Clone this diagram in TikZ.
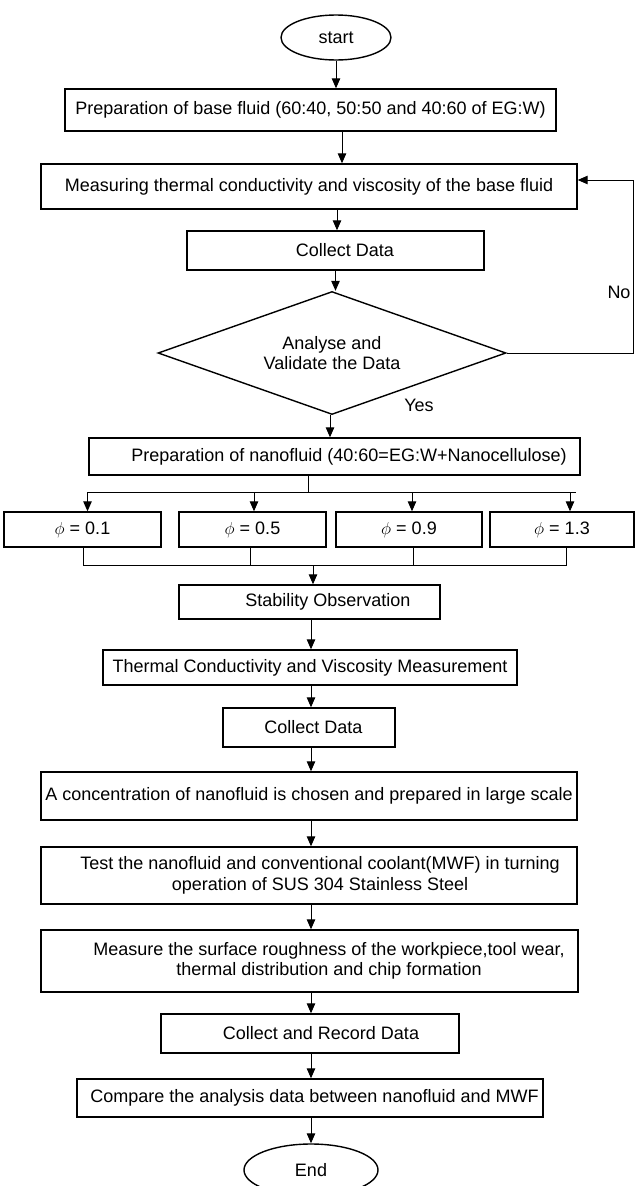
\documentclass[tikz,border=0pt]{standalone}
\usepackage{fontspec}
\setmainfont{Liberation Sans}
\usetikzlibrary{shapes.geometric,arrows.meta,calc}
\newcommand\flowfont{\fontsize{18}{20.5}\selectfont}
\begin{document}
\begin{tikzpicture}[x=1pt,y=-1pt,
  box/.style={draw, line width=1.4pt, inner sep=0pt, font=\flowfont, align=center},
  term/.style={draw, ellipse, line width=1.4pt, inner sep=0pt, font=\flowfont},
  dec/.style={draw, diamond, aspect=2.83, line width=1.4pt, inner sep=0pt, font=\flowfont, align=center},
  lbl/.style={font=\flowfont, inner sep=0pt},
  arr/.style={line width=1pt, -{Triangle[length=10pt,width=8.5pt]}},
  ln/.style={line width=1pt}]
\useasboundingbox (0,0) rectangle (636,1186);
% nodes
\node[term, minimum width=110pt, minimum height=45pt] (st) at (336,37.5) {start};
\node[box, minimum width=491pt, minimum height=42pt] (b1) at (310.5,110) {Preparation of base fluid (60:40, 50:50 and 40:60 of EG:W)};
\node[box, minimum width=536pt, minimum height=45pt] (b2) at (309,186.5) {Measuring thermal conductivity and viscosity of the base fluid};
\node[box, minimum width=297pt, minimum height=39pt] (b3) at (335.5,250.5) {\hspace*{19pt}Collect Data};
\node[dec, minimum width=348pt, minimum height=123pt] (d) at (332,353) {Analyse and\\Validate the Data};
\node[box, minimum width=491pt, minimum height=37pt] (b4) at (334.5,456.5) {\hspace*{29pt}Preparation of nanofluid (40:60=EG:W+Nanocellulose)};
\node[box, minimum width=157pt, minimum height=35pt] (p1) at (82.5,529.5) {$\phi$ = 0.1};
\node[box, minimum width=147pt, minimum height=35pt] (p2) at (252.5,529.5) {$\phi$ = 0.5};
\node[box, minimum width=146pt, minimum height=35pt] (p3) at (409,529.5) {$\phi$ = 0.9};
\node[box, minimum width=144pt, minimum height=35pt] (p4) at (562,529.5) {$\phi$ = 1.3};
\node[box, minimum width=261pt, minimum height=34pt] (so) at (309.5,602) {\hspace*{37pt}Stability Observation};
\node[box, minimum width=414pt, minimum height=35pt] (tc) at (310,667.5) {Thermal Conductivity and Viscosity Measurement};
\node[box, minimum width=172pt, minimum height=39pt] (cd) at (309,727.5) {\hspace*{9pt}Collect Data};
\node[box, minimum width=536pt, minimum height=48pt] (cn) at (309,796) {\raisebox{4pt}{A concentration of nanofluid is chosen and prepared in large scale}};
\node[box, minimum width=536pt, minimum height=57pt] (te) at (309,875.5) {\hspace*{22pt}Test the nanofluid and conventional coolant(MWF) in turning\\\hspace*{22pt}operation of SUS 304 Stainless Steel};
\node[box, minimum width=537pt, minimum height=62pt] (me) at (309.5,961) {\hspace*{39pt}Measure the surface roughness of the workpiece,tool wear,\\\hspace*{39pt}thermal distribution and chip formation};
\node[box, minimum width=298pt, minimum height=39pt] (cr) at (310,1033.5) {\hspace*{22pt}Collect and Record Data};
\node[box, minimum width=466pt, minimum height=38pt] (cp) at (310,1098) {\hspace*{9pt}Compare the analysis data between nanofluid and MWF};
\node[term, minimum width=134pt, minimum height=52pt] (en) at (311,1170) {End};
\node[lbl] (no) at (619,292) {No};
\node[lbl] (yes) at (419,405) {Yes};
% helper coordinates
\coordinate (ax) at (311,0);
\coordinate (fb) at (633,0);
\coordinate (b2fb) at ([yshift=6.5pt]b2.east);
\coordinate (tL) at (87,492);
\coordinate (tR) at (576,492);
\coordinate (t1) at (87.5,492);
\coordinate (t2) at (254,492);
\coordinate (t3) at (412,492);
\coordinate (t4) at (570,492);
\coordinate (tm) at (308,492);
\coordinate (l1) at (83,565);
\coordinate (l2) at (250,565);
\coordinate (l3) at (413,565);
\coordinate (l4) at (566,565);
\coordinate (lm) at (313,565);
% connectors
\draw[arr] (st.south) -- (st.south |- b1.north);
\draw[arr] ([xshift=31.5pt]b1.south) -- ([xshift=31.5pt]b1.south |- b2.north);
\draw[arr] ([xshift=28pt]b2.south) -- ([xshift=28pt]b2.south |- b3.north);
\draw[arr] (b3.south) -- (b3.south |- d.north);
\draw[arr] ([xshift=-2pt]d.south) -- ([xshift=-2pt]d.south |- b4.north);
\draw[arr] (d.east) -- (d.east -| fb) -- (fb |- b2fb) -- (b2fb);
\draw[ln] (tm |- b4.south) -- (tm);
\draw[ln] (tL) -- (tR);
\draw[arr] (t1) -- (t1 |- p1.north);
\draw[arr] (t2) -- (t2 |- p2.north);
\draw[arr] (t3) -- (t3 |- p3.north);
\draw[arr] (t4) -- (t4 |- p4.north);
\draw[ln] (l1 |- p1.south) -- (l1) -- (l4) -- (l4 |- p4.south);
\draw[ln] (l2 |- p2.south) -- (l2);
\draw[ln] (l3 |- p3.south) -- (l3);
\draw[arr] (lm) -- (lm |- so.north);
\draw[arr] (so.south -| ax) -- (tc.north -| ax);
\draw[arr] (tc.south -| ax) -- (cd.north -| ax);
\draw[arr] (cd.south -| ax) -- (cn.north -| ax);
\draw[arr] (cn.south -| ax) -- (te.north -| ax);
\draw[arr] (te.south -| ax) -- (me.north -| ax);
\draw[arr] (me.south -| ax) -- (cr.north -| ax);
\draw[arr] (cr.south -| ax) -- (cp.north -| ax);
\draw[arr] (cp.south -| ax) -- (en.north -| ax);
\end{tikzpicture}
\end{document}
